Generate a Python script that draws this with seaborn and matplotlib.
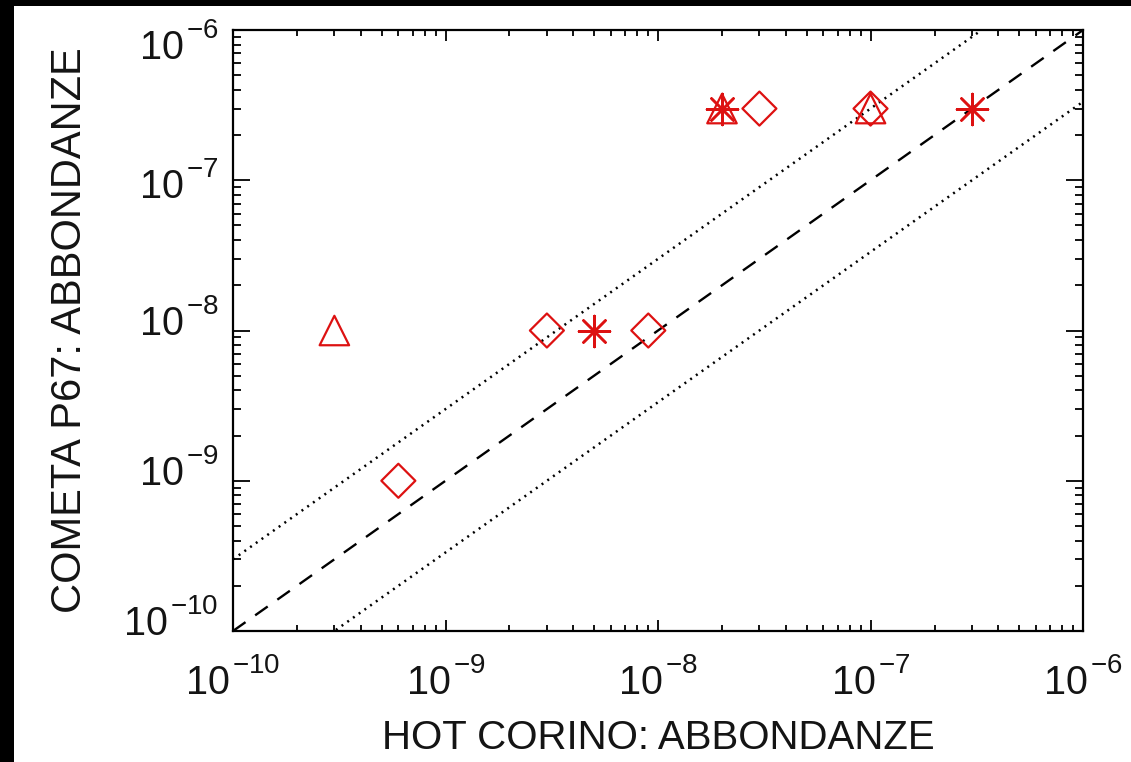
import numpy as np
import pandas as pd
import matplotlib
matplotlib.use("Agg")
import matplotlib.pyplot as plt
import matplotlib.transforms as mtransforms
import matplotlib.ticker as mticker
import seaborn as sns
from matplotlib.patches import Rectangle
import matplotlib._mathtext as _mt

# ---------------- data ----------------
tri_x = [3e-10, 2e-8, 1e-7]
tri_y = [1e-8, 3e-7, 3e-7]

dia_x = [6e-10, 3e-9, 9e-9, 3e-8, 1e-7]
dia_y = [1e-9, 1e-8, 1e-8, 3e-7, 3e-7]

ast_x = [5e-9, 2e-8, 3e-7]
ast_y = [1e-8, 3e-7, 3e-7]

line_x = [1e-10, 1e-6]
ratio_dashed = 1.0
ratio_dotted = [3.0, 1.0 / 3.0]

decades = [-10, -9, -8, -7, -6]
x_label = "HOT CORINO: ABBONDANZE"
y_label = "COMETA P67: ABBONDANZE"
lims = (1e-10, 1e-6)

# ---------------- style ----------------
sns.set_theme(style="white")
plt.rcParams["font.family"] = ["Liberation Sans", "DejaVu Sans"]
plt.rcParams["mathtext.fontset"] = "custom"
plt.rcParams["mathtext.rm"] = "Liberation Sans"
plt.rcParams["mathtext.it"] = "Liberation Sans"
plt.rcParams["mathtext.bf"] = "Liberation Sans"
# superscripts sit a bit higher in the original
_mt.FontConstantsBase.sup1 = 0.95

red = "#dd1111"
txt = "#141414"

fig = plt.figure(figsize=(11.31, 7.62), dpi=100)
fig.patch.set_facecolor("white")
ax = fig.add_axes([0.206, 0.1719, 0.7516, 0.7887])
ax.set_xscale("log")
ax.set_yscale("log")

# reference lines
lx = np.array(line_x)
sns.lineplot(x=lx, y=lx * ratio_dashed, ax=ax, color="black", lw=1.7,
             linestyle=(0, (6.5, 5)))
for r in ratio_dotted:
    sns.lineplot(x=lx, y=lx * r, ax=ax, color="black", lw=1.8,
                 linestyle=(0, (0.8, 2.0)))

# markers
sns.scatterplot(x=dia_x, y=dia_y, ax=ax, marker="D", s=300,
                facecolor="none", edgecolor=red, linewidth=1.6, zorder=5)
sns.scatterplot(x=tri_x, y=tri_y, ax=ax, marker="^", s=450,
                facecolor="none", edgecolor=red, linewidth=1.6, zorder=5)
sns.scatterplot(x=ast_x, y=ast_y, ax=ax, marker=(8, 2, 0), s=500,
                color=red, edgecolor=red, linewidth=1.8, zorder=6)

for s in ax.spines.values():
    s.set_color("black")
    s.set_linewidth(1.6)
    s.set_visible(True)

ticks = [10.0 ** d for d in decades]
fmt = mticker.FuncFormatter(
    lambda v, _: r"$10^{\hspace{0.12}{%d}}$" % int(round(np.log10(v))))
ax.set_xticks(ticks)
ax.set_yticks(ticks)
ax.xaxis.set_major_formatter(fmt)
ax.yaxis.set_major_formatter(fmt)
ax.xaxis.set_minor_locator(mticker.LogLocator(base=10, subs=np.arange(2, 10), numticks=50))
ax.yaxis.set_minor_locator(mticker.LogLocator(base=10, subs=np.arange(2, 10), numticks=50))
ax.xaxis.set_minor_formatter(mticker.NullFormatter())
ax.yaxis.set_minor_formatter(mticker.NullFormatter())
ax.set_xlim(*lims)
ax.set_ylim(*lims)

ax.tick_params(axis="both", which="both", direction="in", top=True, right=True,
               bottom=True, left=True, color="black", width=1.3,
               labelcolor=txt)
ax.tick_params(axis="x", which="major", length=8, pad=19.5, labelsize=28.5)
ax.tick_params(axis="x", which="minor", length=4.5)
ax.tick_params(axis="y", which="major", length=12, pad=10.5, labelsize=28.5)
ax.tick_params(axis="y", which="minor", length=6)

ax.set_xlabel(x_label, fontsize=29, color=txt, labelpad=12)
ax.set_ylabel(y_label, fontsize=30, color=txt, labelpad=24)

# end labels of the y axis sit inside the axis range (as in the original)
ylocs = ax.yaxis.get_majorticklocs()
yticks = ax.yaxis.get_major_ticks(len(ylocs))
for loc, tk in zip(ylocs, yticks):
    if np.isclose(loc, lims[1]):
        off = mtransforms.ScaledTranslation(0, -12 / 100, fig.dpi_scale_trans)
        tk.label1.set_transform(tk.label1.get_transform() + off)
    elif np.isclose(loc, lims[0]):
        off = mtransforms.ScaledTranslation(0, 13 / 100, fig.dpi_scale_trans)
        tk.label1.set_transform(tk.label1.get_transform() + off)

# black scan border at top and left
fig.patches.append(Rectangle((0, 0), 14 / 1131, 1, transform=fig.transFigure,
                             facecolor="black", edgecolor="none", zorder=10))
fig.patches.append(Rectangle((0, 1 - 6 / 762), 1, 6 / 762, transform=fig.transFigure,
                             facecolor="black", edgecolor="none", zorder=10))

fig.savefig("out.png", dpi=100, facecolor="white")
